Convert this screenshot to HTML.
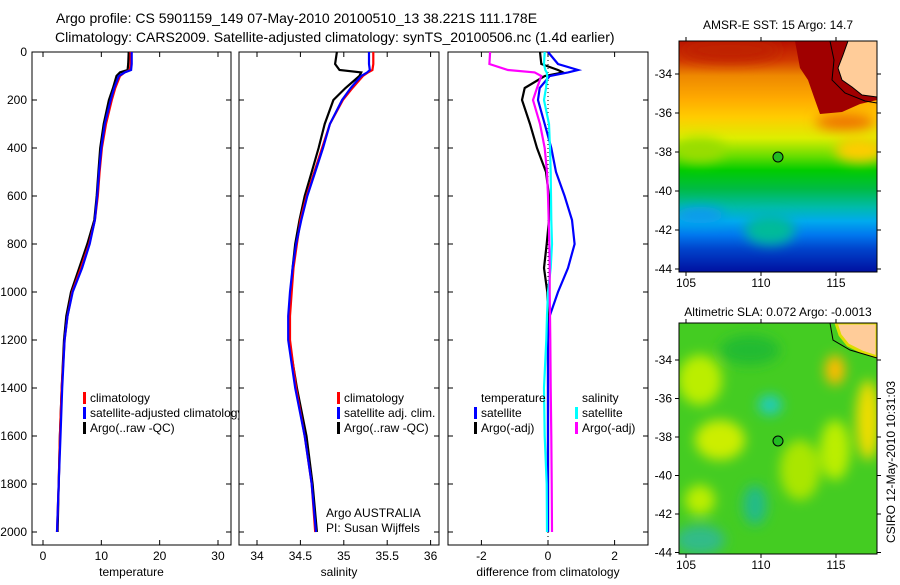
<!DOCTYPE html>
<html><head><meta charset="utf-8"><style>
body{margin:0;background:#fff;}
svg text{font-family:"Liberation Sans",sans-serif;fill:#000;}
</style></head><body>
<svg id="s" width="900" height="580" viewBox="0 0 900 580" xmlns="http://www.w3.org/2000/svg">
<defs>
<linearGradient id="sstg" x1="0" y1="0" x2="0" y2="1">
<stop offset="0" stop-color="#b81000"/><stop offset="0.08" stop-color="#d03800"/><stop offset="0.15" stop-color="#ee8800"/><stop offset="0.25" stop-color="#ffaa00"/><stop offset="0.33" stop-color="#ffcc00"/><stop offset="0.42" stop-color="#ddee00"/><stop offset="0.5" stop-color="#66dd00"/><stop offset="0.56" stop-color="#00cc00"/><stop offset="0.64" stop-color="#00bb44"/><stop offset="0.72" stop-color="#00bbaa"/><stop offset="0.78" stop-color="#00aaee"/><stop offset="0.84" stop-color="#0077ee"/><stop offset="0.9" stop-color="#0044cc"/><stop offset="1" stop-color="#0010a0"/>
</linearGradient>
<filter id="bl"><feGaussianBlur stdDeviation="6"/></filter>
<clipPath id="c1"><rect x="679" y="41" width="198" height="231"/></clipPath>
<clipPath id="c2"><rect x="679" y="323" width="198" height="231"/></clipPath>
</defs>
<text x="56" y="23" font-size="14">Argo profile: CS 5901159_149 07-May-2010 20100510_13 38.221S 111.178E</text>
<text x="55" y="42" font-size="14">Climatology: CARS2009. Satellite-adjusted climatology: synTS_20100506.nc (1.4d earlier)</text>
<g id="g"></g>
<!-- SST map -->
<g clip-path="url(#c1)">
<rect x="679" y="41" width="198" height="231" fill="url(#sstg)"/>
<g filter="url(#bl)">
<ellipse cx="730" cy="50" rx="50" ry="12" fill="#c02000"/>
<ellipse cx="845" cy="122" rx="30" ry="8" fill="#ee7000"/>
<ellipse cx="700" cy="150" rx="25" ry="12" fill="#99dd00"/>
<ellipse cx="860" cy="150" rx="25" ry="12" fill="#ffcc00"/>
<ellipse cx="770" cy="230" rx="25" ry="15" fill="#00bb99"/>
<ellipse cx="700" cy="215" rx="25" ry="8" fill="#1199ee"/>
</g>
<polygon points="795,41 877,41 877,100 860,104 842,112 820,114 815,100 808,80 800,68" fill="#a00000"/>
<polygon points="848,41 877,41 877,97 862,95 852,87 842,80 838,68 843,55" fill="#ffcc99" stroke="#000" stroke-width="1"/>
<polyline points="830,41 834,60 832,80 845,93 865,101 877,103" fill="none" stroke="#000" stroke-width="1"/>
<circle cx="778" cy="157" r="5" fill="#22bb22" stroke="#000" stroke-width="1"/>
</g>
<rect x="679" y="41" width="198" height="231" fill="none" stroke="#000"/>
<text x="778" y="29" font-size="12" text-anchor="middle">AMSR-E SST: 15 Argo: 14.7</text>
<!-- SLA map -->
<g clip-path="url(#c2)">
<rect x="679" y="323" width="198" height="231" fill="#44cc22"/>
<g filter="url(#bl)">
<ellipse cx="700" cy="380" rx="22" ry="25" fill="#bbee00"/>
<ellipse cx="720" cy="440" rx="25" ry="20" fill="#ccee00"/>
<ellipse cx="800" cy="470" rx="20" ry="30" fill="#aae600"/>
<ellipse cx="835" cy="450" rx="15" ry="30" fill="#bbee00"/>
<ellipse cx="835" cy="370" rx="10" ry="15" fill="#ffbb00"/>
<ellipse cx="868" cy="420" rx="12" ry="40" fill="#eedd00"/>
<ellipse cx="770" cy="405" rx="12" ry="10" fill="#22ccbb"/>
<ellipse cx="755" cy="505" rx="12" ry="20" fill="#22bb88"/>
<ellipse cx="700" cy="540" rx="25" ry="15" fill="#33bb88"/>
<ellipse cx="750" cy="350" rx="30" ry="15" fill="#22bb33"/>
<ellipse cx="700" cy="500" rx="15" ry="15" fill="#bbee00"/>
</g>
<polygon points="836,323 877,323 877,357 862,352 848,345 840,335" fill="#ffcc99" stroke="#dddd00" stroke-width="3"/>
<polyline points="830,323 833,340 850,350 877,358" fill="none" stroke="#000" stroke-width="1"/>
<circle cx="778" cy="441" r="5" fill="#22bb22" stroke="#000" stroke-width="1"/>
</g>
<rect x="679" y="323" width="198" height="231" fill="none" stroke="#000"/>
<text x="778" y="316" font-size="12" text-anchor="middle">Altimetric SLA: 0.072 Argo: -0.0013</text>
<text transform="translate(895,462) rotate(-90)" font-size="12" text-anchor="middle">CSIRO 12-May-2010 10:31:03</text>
</svg>
<script>
const depths=[0,50,75,85,100,150,200,300,400,500,600,700,800,900,1000,1100,1200,1400,1600,1800,2000];
const tArgo=[14.7,14.6,14.5,13.2,12.6,12.0,11.3,10.4,9.8,9.5,9.2,8.8,7.6,6.2,4.8,4.0,3.6,3.2,2.9,2.7,2.5];
const tClim=[15.0,15.0,14.9,14.0,13.2,12.4,11.8,10.8,10.1,9.7,9.4,8.9,7.9,6.5,5.0,4.2,3.7,3.2,2.9,2.7,2.4];
const tSat=[15.2,15.2,15.1,14.0,13.0,12.2,11.6,10.6,10.0,9.6,9.3,8.9,8.0,6.7,5.1,4.2,3.7,3.3,3.0,2.7,2.4];
const sArgo=[34.92,34.90,34.95,35.20,35.18,35.02,34.88,34.78,34.71,34.63,34.55,34.49,34.44,34.41,34.39,34.37,34.37,34.46,34.57,34.64,34.69];
const sClim=[35.34,35.34,35.33,35.28,35.22,35.10,34.99,34.84,34.75,34.66,34.57,34.50,34.46,34.42,34.40,34.38,34.38,34.45,34.55,34.63,34.67];
const sSat=[35.29,35.29,35.30,35.27,35.20,35.08,34.98,34.84,34.76,34.67,34.58,34.51,34.45,34.41,34.38,34.36,34.36,34.44,34.55,34.63,34.68];
const dTArgo=[-0.24,-0.2,0.3,0.45,-0.1,-0.7,-0.78,-0.54,-0.33,-0.06,0.03,0.03,-0.04,-0.12,-0.02,0.0,0.0,0.0,0.0,0.0,0.0];
const dTSat=[0.0,0.3,0.9,0.6,0.05,-0.25,-0.3,-0.1,0.1,0.24,0.5,0.72,0.8,0.6,0.3,0.05,0.0,0.0,0.0,0.0,0.0];
const dSArgo=[-1.74,-1.76,-1.2,-0.4,-0.2,-0.33,-0.45,-0.24,-0.1,-0.03,0.0,0.02,0.04,0.05,0.05,0.06,0.07,0.08,0.1,0.11,0.12];
const dSSat=[-0.1,-0.12,-0.08,-0.04,-0.02,-0.06,-0.12,0.03,0.06,0.08,0.09,0.1,0.12,0.08,0.0,-0.03,-0.05,-0.12,-0.1,-0.04,-0.03];
const depthTicks=[0,200,400,600,800,1000,1200,1400,1600,1800,2000];
const tTicks=[0,10,20,30];
const sTicks=[34,34.5,35,35.5,36];
const sTickLabels=['34','34.5','35','35.5','36'];
const dTicks=[-2,0,2];
const lonTicks=[105,110,115];
const latTicks=[-34,-36,-38,-40,-42,-44];

const NS='http://www.w3.org/2000/svg';
const g=document.getElementById('g');
function el(tag,attrs,parent){const e=document.createElementNS(NS,tag);for(const k in attrs)e.setAttribute(k,attrs[k]);(parent||g).appendChild(e);return e;}
function txt(x,y,s,size,anchor,parent){const t=el('text',{x:x,y:y,'font-size':size,'text-anchor':anchor||'start'},parent);t.textContent=s;return t;}
const yD=d=>52+d*0.24;
const panels=[
 {x0:32,x1:231,v0:43,k:5.833,base:0,ticks:tTicks,labels:tTicks.map(String),lab:'temperature',name:'temperature-panel'},
 {x0:239,x1:439,v0:257,k:86.8,base:34,ticks:sTicks,labels:sTickLabels,lab:'salinity',name:'salinity-panel'},
 {x0:448,x1:648,v0:548,k:33.3,base:0,ticks:dTicks,labels:dTicks.map(String),lab:'difference from climatology',name:'difference-panel'}];
panels.forEach((p,i)=>{
 const pg=el('g',{});
 
 
 const r=el('rect',{x:p.x0,y:52,width:p.x1-p.x0,height:493,fill:'#fff',stroke:'#000','stroke-width':1},pg);
 
 
 p.g=pg;p.X=v=>p.v0+(v-p.base)*p.k;
 depthTicks.forEach(d=>{
  el('line',{x1:p.x0,x2:p.x0+5,y1:yD(d),y2:yD(d),stroke:'#000'},pg);
  el('line',{x1:p.x1-5,x2:p.x1,y1:yD(d),y2:yD(d),stroke:'#000'},pg);
  if(i==0){const t=txt(27,yD(d)+4,String(d),12,'end',pg);}
 });
 p.ticks.forEach((v,j)=>{
  const x=p.X(v);
  el('line',{x1:x,x2:x,y1:52,y2:57,stroke:'#000'},pg);
  el('line',{x1:x,x2:x,y1:540,y2:545,stroke:'#000'},pg);
  const t=txt(x,560,p.labels[j],12,'middle',pg);
  
  
 });
 const al=txt((p.x0+p.x1)/2,576,p.lab,12,'middle',pg);
 
 
});
function line(p,vals,color,name){
 const pts=depths.map((d,i)=>p.X(vals[i]).toFixed(1)+','+yD(d).toFixed(1)).join(' ');
 const l=el('polyline',{points:pts,fill:'none',stroke:color,'stroke-width':2.2},p.g);
 
 
}
const P=panels;
line(P[0],tArgo,'#000','temp-argo-line');line(P[0],tClim,'#f00','temp-climatology-line');line(P[0],tSat,'#00f','temp-satellite-line');
line(P[1],sArgo,'#000','sal-argo-line');line(P[1],sClim,'#f00','sal-climatology-line');line(P[1],sSat,'#00f','sal-satellite-line');
const zl=el('line',{x1:P[2].X(0),x2:P[2].X(0),y1:52,y2:545,stroke:'#000','stroke-dasharray':'1,3'},P[2].g);


line(P[2],dTArgo,'#000','diff-temp-argo-line');line(P[2],dTSat,'#00f','diff-temp-satellite-line');
line(P[2],dSSat,'#0ff','diff-sal-satellite-line');line(P[2],dSArgo,'#f0f','diff-sal-argo-line');
function legend(par,x,y,color,label){
 if(color){el('rect',{x:x-7,y:y-10,width:3,height:12,fill:color},par);}
 const t=txt(x,y,label,12,'start',par);
 
 
}
legend(P[0].g,90,402,'#f00','climatology');legend(P[0].g,90,417,'#00f','satellite-adjusted climatology');legend(P[0].g,90,432,'#000','Argo(..raw -QC)');
legend(P[1].g,344,402,'#f00','climatology');legend(P[1].g,344,417,'#00f','satellite adj. clim.');legend(P[1].g,344,432,'#000','Argo(..raw -QC)');
legend(P[1].g,326,517,null,'Argo AUSTRALIA');legend(P[1].g,326,532,null,'PI: Susan Wijffels');
legend(P[2].g,481,402,null,'temperature');legend(P[2].g,481,417,'#00f','satellite');legend(P[2].g,481,432,'#000','Argo(-adj)');
legend(P[2].g,582,402,null,'salinity');legend(P[2].g,582,417,'#0ff','satellite');legend(P[2].g,582,432,'#f0f','Argo(-adj)');
const svg=document.getElementById('s');
const lonX=v=>686+(v-105)*15;
[[41,272,v=>74+(-34-v)*19.5],[323,554,v=>360+(-34-v)*38.5/2]].forEach(([t,b,latY],m)=>{
 const ag=el('g',{},svg);
 
 
 lonTicks.forEach(v=>{const x=lonX(v);el('line',{x1:x,x2:x,y1:b,y2:b+4,stroke:'#000'},ag);el('line',{x1:x,x2:x,y1:t-4,y2:t,stroke:'#000'},ag);const l=txt(x,b+15,String(v),12,'middle',ag);});
 latTicks.forEach(v=>{const y=latY(v);if(y<t||y>b+2)return;el('line',{x1:675,x2:679,y1:y,y2:y,stroke:'#000'},ag);el('line',{x1:877,x2:881,y1:y,y2:y,stroke:'#000'},ag);const l=txt(672,y+4,String(v),12,'end',ag);});
});
</script>
</body></html>
